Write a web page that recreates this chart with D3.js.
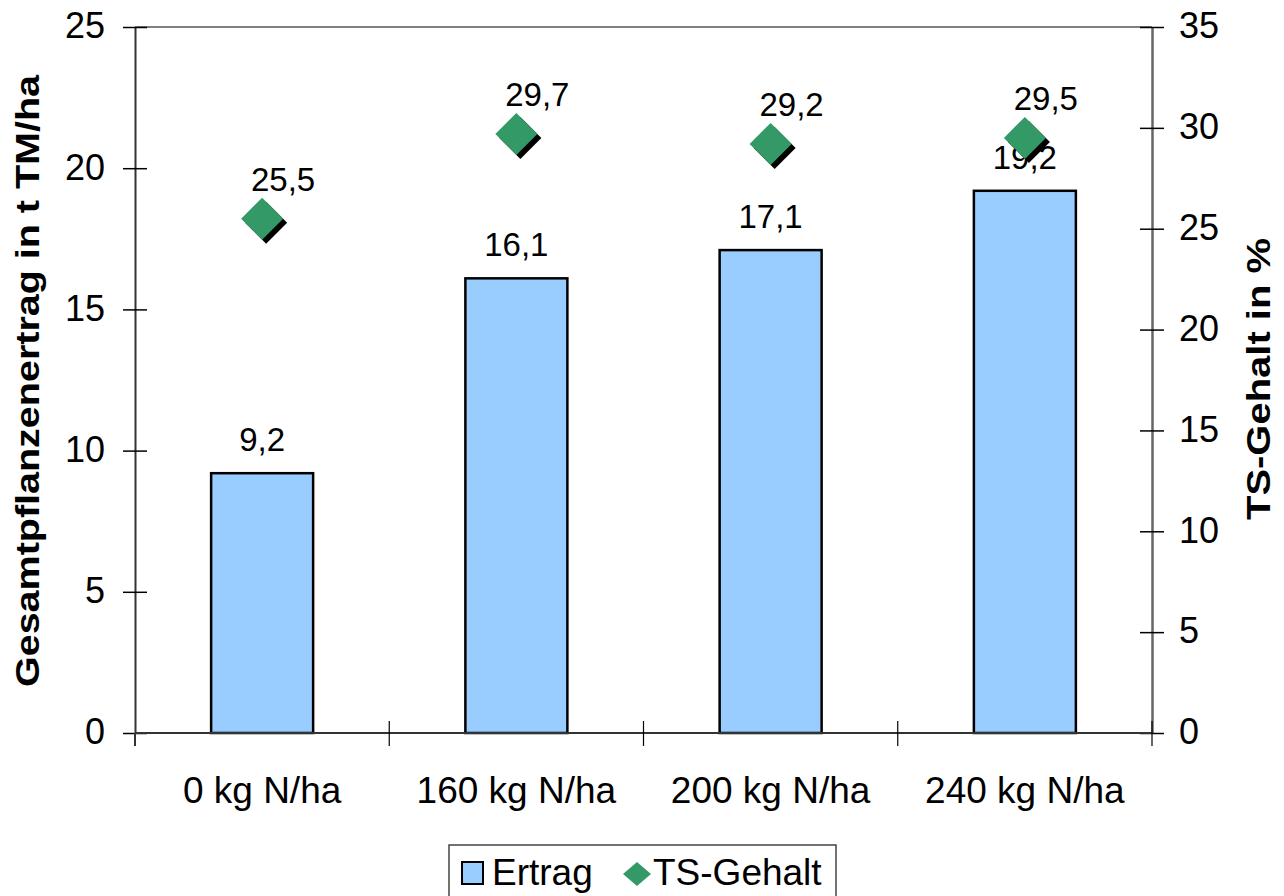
<!DOCTYPE html>
<html><head><meta charset="utf-8">
<script src="https://cdn.jsdelivr.net/npm/d3@7"></script>
<style>body{margin:0;background:#fff}svg{display:block}text{font-family:"Liberation Sans",Arial,sans-serif}</style>
</head><body><svg id="c" width="1284" height="896"></svg>
<script>
const categories = ["0 kg N/ha","160 kg N/ha","200 kg N/ha","240 kg N/ha"];
const ertrag = [9.2, 16.1, 17.1, 19.2];
const tsGehalt = [25.5, 29.7, 29.2, 29.5];
const leftTicks = [0,5,10,15,20,25];
const rightTicks = [0,5,10,15,20,25,30,35];
const fmt = v => v.toFixed(1).replace(".", ",");

const svg = d3.select("#c");
const L = 135, R = 1152, T = 27, B = 733;
const xb = d3.scaleBand().domain(categories).range([L, R]);
const yL = d3.scaleLinear().domain([0,25]).range([B, T]);
const yR = d3.scaleLinear().domain([0,35]).range([B, T]);
const cx = i => xb(categories[i]) + xb.bandwidth()/2;

// top border
svg.append("line").attr("x1",L).attr("x2",R).attr("y1",T).attr("y2",T).attr("stroke","#808080").attr("stroke-width",2);

// bars
svg.selectAll("rect.bar").data(ertrag).join("rect").attr("class","bar")
  .attr("x",(d,i)=>cx(i) - 51)
  .attr("width",102)
  .attr("y",d=>yL(d)).attr("height",d=>B-yL(d))
  .attr("fill","#99CCFF").attr("stroke","#000").attr("stroke-width",2.5);

// bar labels
svg.selectAll("text.bl").data(ertrag).join("text").attr("class","bl")
  .attr("x",(d,i)=>cx(i))
  .attr("y",d=>yL(d)-22).attr("text-anchor","middle").attr("font-size",33).text(fmt);

// left axis
const gL = svg.append("g").attr("transform",`translate(${L},0)`)
  .call(d3.axisLeft(yL).tickValues(leftTicks).tickSizeInner(12).tickSizeOuter(0));
gL.select(".domain").attr("stroke","#333").attr("stroke-width",2);
gL.selectAll(".tick line").attr("x2",-12).attr("x1",12).attr("stroke","#000").attr("stroke-width",1.5);
gL.selectAll(".tick text").attr("font-size",36).attr("fill","#000").attr("dy","0.3em").attr("x",-30);
svg.append("line").attr("x1",L).attr("x2",L).attr("y1",B).attr("y2",B+13).attr("stroke","#333").attr("stroke-width",2);

// right axis
const gR = svg.append("g").attr("transform",`translate(${R},0)`)
  .call(d3.axisRight(yR).tickValues(rightTicks).tickSizeInner(12).tickSizeOuter(0));
gR.select(".domain").attr("stroke","#666").attr("stroke-width",2.5);
gR.selectAll(".tick line").attr("x1",-12).attr("x2",12).attr("stroke","#000").attr("stroke-width",1.5);
gR.selectAll(".tick text").attr("font-size",36).attr("fill","#000").attr("dy","0.3em").attr("x",27);

// bottom axis
svg.append("line").attr("x1",L).attr("x2",R).attr("y1",B).attr("y2",B).attr("stroke","#333").attr("stroke-width",2);
const bounds = categories.map(c=>xb(c)).concat([R]);
svg.selectAll("line.xt").data(bounds.slice(1)).join("line").attr("class","xt")
  .attr("x1",d=>d).attr("x2",d=>d).attr("y1",B-12).attr("y2",B+13).attr("stroke","#000").attr("stroke-width",1.2);
svg.selectAll("text.xl").data(categories).join("text").attr("class","xl")
  .attr("x",d=>xb(d)+xb.bandwidth()/2).attr("y",803).attr("text-anchor","middle").attr("font-size",37).text(d=>d);

// diamonds
const dpath = (s,h) => `M0,${-(h||s)}L${s},0L0,${h||s}L${-s},0Z`;
svg.selectAll("path.sh").data(tsGehalt).join("path").attr("class","sh")
  .attr("transform",(d,i)=>`translate(${cx(i)+4},${yR(d)+4})`).attr("d",dpath(21)).attr("fill","#000");
svg.selectAll("path.dm").data(tsGehalt).join("path").attr("class","dm")
  .attr("transform",(d,i)=>`translate(${cx(i)},${yR(d)})`).attr("d",dpath(21)).attr("fill","#339966");
svg.selectAll("text.dl").data(tsGehalt).join("text").attr("class","dl")
  .attr("x",(d,i)=>cx(i)+21).attr("y",d=>yR(d)-28).attr("text-anchor","middle").attr("font-size",33).text(fmt);

// axis titles
svg.append("text").attr("transform",`translate(39,381) rotate(-90)`).attr("text-anchor","middle")
  .attr("font-size",34).attr("font-weight","bold")
  .attr("textLength",612).attr("lengthAdjust","spacingAndGlyphs").text("Gesamtpflanzenertrag in t TM/ha");
svg.append("text").attr("transform",`translate(1270,379) rotate(-90)`).attr("text-anchor","middle")
  .attr("font-size",34).attr("font-weight","bold")
  .attr("textLength",282).attr("lengthAdjust","spacingAndGlyphs").text("TS-Gehalt in %");

// legend
const lg = svg.append("g");
lg.append("rect").attr("x",449).attr("y",845).attr("width",387).attr("height",70).attr("fill","#fff").attr("stroke","#444").attr("stroke-width",1.5);
lg.append("rect").attr("x",462).attr("y",862).attr("width",21).attr("height",22).attr("fill","#99CCFF").attr("stroke","#000").attr("stroke-width",2);
lg.append("text").attr("x",492).attr("y",885).attr("font-size",37).text("Ertrag");
lg.append("path").attr("transform","translate(637,874)").attr("d",dpath(14,12)).attr("fill","#339966");
lg.append("text").attr("x",653).attr("y",885).attr("font-size",37).text("TS-Gehalt");
</script></body></html>
